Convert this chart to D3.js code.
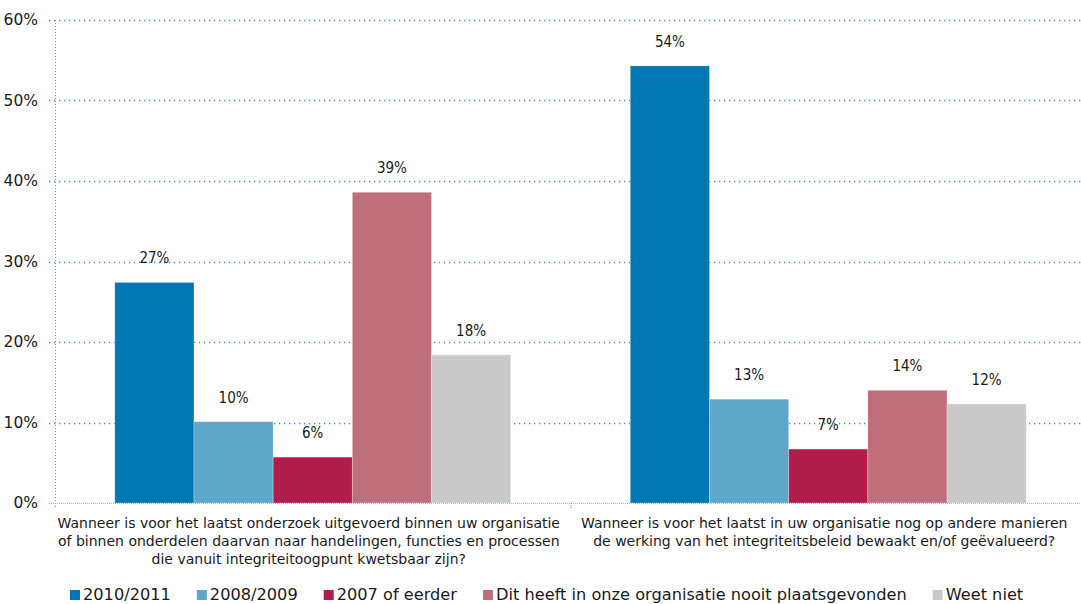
<!DOCTYPE html>
<html>
<head>
<meta charset="utf-8">
<script src="https://cdn.jsdelivr.net/npm/d3@7"></script>
<style>
  body { margin: 0; background: #fff; }
  svg text { font-family: "DejaVu Sans", sans-serif; fill: #1a1a1a; }
</style>
</head>
<body>
<div id="chart"></div>
<script>
// data
var categories = [
  ["Wanneer is voor het laatst onderzoek uitgevoerd binnen uw organisatie",
   "of binnen onderdelen daarvan naar handelingen, functies en processen",
   "die vanuit integriteitoogpunt kwetsbaar zijn?"],
  ["Wanneer is voor het laatst in uw organisatie nog op andere manieren",
   "de werking van het integriteitsbeleid bewaakt en/of geëvalueerd?"]
];
var seriesNames = ["2010/2011", "2008/2009", "2007 of eerder", "Dit heeft in onze organisatie nooit plaatsgevonden", "Weet niet"];
var seriesColors = ["#0077b3", "#5fa7c9", "#b01c4b", "#bf6e7c", "#c9c9c9"];
var values = [
  [27.4, 10.1, 5.7, 38.6, 18.4],
  [54.3, 12.9, 6.7, 14.0, 12.3]
];
var yTicks = [0, 10, 20, 30, 40, 50, 60];

var width = 1081, height = 604;
var margin = { top: 20, left: 55, bottom: 101 };
var condensed = "'DejaVu Sans Condensed', 'DejaVu Sans', sans-serif";

var svg = d3.select("#chart").append("svg")
  .attr("width", width)
  .attr("height", height);

var x0 = d3.scaleBand()
  .domain(d3.range(categories.length))
  .range([margin.left, margin.left + 1031])
  .paddingInner(0).paddingOuter(0);

var x1 = d3.scaleBand()
  .domain(d3.range(seriesNames.length))
  .range([0, x0.bandwidth()])
  .paddingInner(0).paddingOuter(0.755);

var y = d3.scaleLinear()
  .domain([0, 60])
  .range([height - margin.bottom, margin.top]);

// gridlines
var grid = svg.append("g").attr("class", "grid");
grid.selectAll("line")
  .data(yTicks.filter(function (d) { return d > 0; }))
  .enter().append("line")
  .attr("x1", 49).attr("x2", width)
  .attr("y1", function (d) { return Math.round(y(d)) + 0.5; })
  .attr("y2", function (d) { return Math.round(y(d)) + 0.5; })
  .attr("stroke", "#3a92c4")
  .attr("stroke-width", 1.3)
  .attr("stroke-dasharray", "1.3,3.7");

// left axis line (dotted)
svg.append("line")
  .attr("x1", margin.left + 0.5).attr("x2", margin.left + 0.5)
  .attr("y1", y(60)).attr("y2", y(0) + 4)
  .attr("stroke", "#5aa6d0")
  .attr("stroke-width", 1)
  .attr("stroke-dasharray", "1,2");

// y tick labels
var yAxis = d3.axisLeft(y)
  .tickValues(yTicks)
  .tickSize(0)
  .tickPadding(17)
  .tickFormat(function (d) { return d + "%"; });

svg.append("g")
  .attr("transform", "translate(" + margin.left + ",0)")
  .call(yAxis)
  .call(function (g) { g.select(".domain").remove(); })
  .selectAll("text")
  .attr("font-size", 15.5)
  .attr("font-family", condensed)
  .attr("fill", "#1a1a1a");

// bars
var groups = svg.selectAll(".group")
  .data(values)
  .enter().append("g")
  .attr("class", "group")
  .attr("transform", function (d, i) { return "translate(" + x0(i) + ",0)"; });

groups.selectAll("rect")
  .data(function (d) { return d; })
  .enter().append("rect")
  .attr("x", function (d, i) { return x1(i); })
  .attr("width", x1.bandwidth())
  .attr("y", function (d) { return y(d); })
  .attr("height", function (d) { return y(0) - y(d); })
  .attr("fill", function (d, i) { return seriesColors[i]; })
  .attr("stroke", "rgba(255,255,255,0.35)")
  .attr("stroke-width", 0.8);

groups.selectAll(".val")
  .data(function (d) { return d; })
  .enter().append("text")
  .attr("class", "val")
  .attr("x", function (d, i) { return x1(i) + x1.bandwidth() / 2; })
  .attr("y", function (d) { return y(d) - 19; })
  .attr("text-anchor", "middle")
  .attr("font-size", 15)
  .attr("font-family", condensed)
  .attr("font-stretch", "condensed")
  .text(function (d) { return Math.round(d) + "%"; });

// baseline (dense light dots)
svg.append("line")
  .attr("x1", 49).attr("x2", width)
  .attr("y1", y(0) + 0.5).attr("y2", y(0) + 0.5)
  .attr("stroke", "#8ec1dd")
  .attr("stroke-width", 1.2)
  .attr("stroke-dasharray", "1,1");

// category boundary tick
svg.append("line")
  .attr("x1", x0(1) + 0.5).attr("x2", x0(1) + 0.5)
  .attr("y1", y(0)).attr("y2", y(0) + 5)
  .attr("stroke", "#5aa6d0")
  .attr("stroke-dasharray", "1,1");

// category labels
var cat = svg.selectAll(".cat")
  .data(categories)
  .enter().append("text")
  .attr("class", "cat")
  .attr("text-anchor", "middle")
  .attr("font-size", 14)
  .attr("transform", function (d, i) { return "translate(" + (x0(i) + x0.bandwidth() / 2 - 4) + "," + 528 + ")"; });

cat.selectAll("tspan")
  .data(function (d) { return d; })
  .enter().append("tspan")
  .attr("x", 0)
  .attr("dy", function (d, i) { return i === 0 ? 0 : 18; })
  .text(function (d) { return d; });

// legend
var legend = svg.append("g").attr("transform", "translate(70,600)");
var lx = 0;
seriesNames.forEach(function (name, i) {
  var item = legend.append("g").attr("transform", "translate(" + lx + ",0)");
  item.append("rect")
    .attr("x", 0).attr("y", -10)
    .attr("width", 10).attr("height", 10)
    .attr("fill", seriesColors[i]);
  var t = item.append("text")
    .attr("x", 13)
    .attr("y", 0)
    .attr("font-size", 16.2)
    .text(name);
  lx += 13 + t.node().getComputedTextLength() + 26;
});
</script>
</body>
</html>
